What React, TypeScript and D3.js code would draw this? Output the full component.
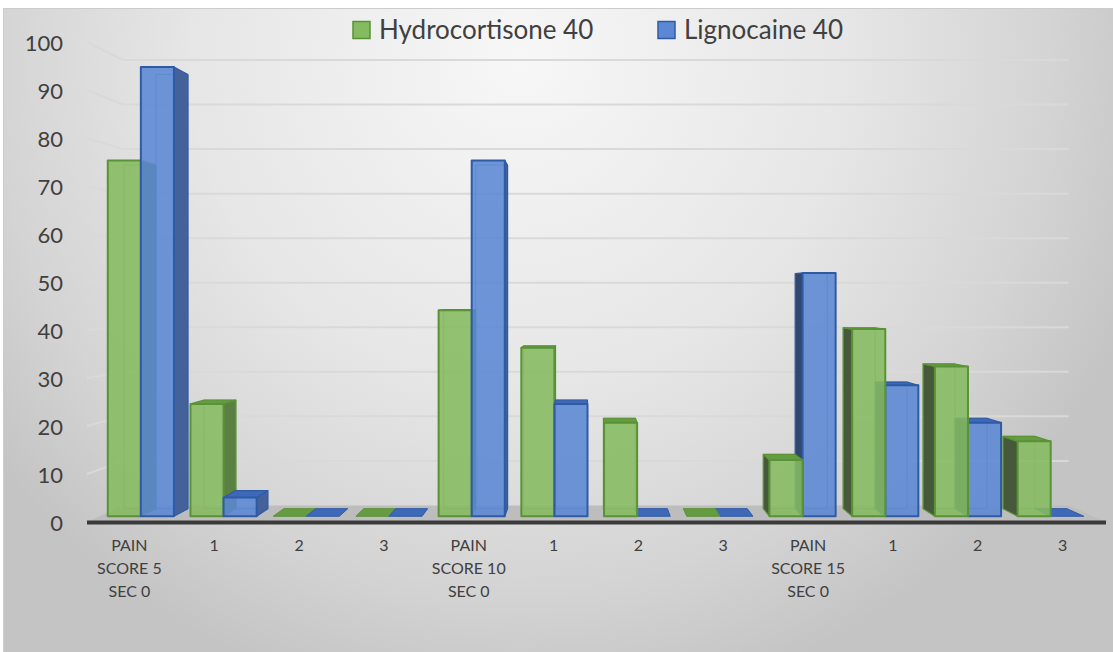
import React from "react";
import * as d3 from "d3";

const categories = [
  ["PAIN", "SCORE 5", "SEC 0"], ["1"], ["2"], ["3"],
  ["PAIN", "SCORE 10", "SEC 0"], ["1"], ["2"], ["3"],
  ["PAIN", "SCORE 15", "SEC 0"], ["1"], ["2"], ["3"],
];
const hydrocortisone = [76, 24, 0, 0, 44, 36, 20, 0, 12, 40, 32, 16];
const lignocaine = [96, 4, 0, 0, 76, 24, 0, 0, 52, 28, 20, 0];
const seriesNames = ["Hydrocortisone 40", "Lignocaine 40"];
const yTicks = [0, 10, 20, 30, 40, 50, 60, 70, 80, 90, 100];

const W = 1113;
const H = 652;

// simple perspective: points shrink toward a vanishing point with depth
const VX = 587;
const VY = 292;
const D_FRONT = 0.025;
const D_BACK = 0.058;
const D_WALL = 0.072;

const palette = [
  { front: "#84bb60", stroke: "#5a9236", top: "#659c42", left: "#46593a", right: "#5b8043" },
  { front: "#5b87d3", stroke: "#2f5ba6", top: "#3d69b8", left: "#30476f", right: "#44619a" },
];

const project = (x: number, y: number, d: number): [number, number] => [
  VX + (x - VX) * (1 - d),
  VY + (y - VY) * (1 - d),
];

const poly = (pts: [number, number][]) =>
  "M" + pts.map((p) => p[0].toFixed(2) + "," + p[1].toFixed(2)).join("L") + "Z";

export default function App() {
  const xScale = d3
    .scaleBand<number>()
    .domain(d3.range(categories.length))
    .range([87, 1105]);
  const xInner = d3
    .scaleBand<number>()
    .domain([0, 1])
    .range([0, xScale.bandwidth()])
    .paddingOuter(0.25);
  const yScale = d3.scaleLinear().domain([0, 100]).range([522, 42]);

  const series = [hydrocortisone, lignocaine];
  const base = yScale(0);

  type Bar = { x0: number; x1: number; yt: number; v: number; s: number };
  const bars: Bar[] = [];
  categories.forEach((_, i) => {
    series.forEach((vals, s) => {
      const x0 = (xScale(i) as number) + (xInner(s) as number);
      bars.push({ x0, x1: x0 + xInner.bandwidth(), yt: yScale(vals[i]), v: vals[i], s });
    });
  });
  // far-from-centre bars first
  bars.sort(
    (a, b) => Math.abs((b.x0 + b.x1) / 2 - VX) - Math.abs((a.x0 + a.x1) / 2 - VX)
  );

  const floorLeft = 87;
  const floorRight = 1106;

  return (
    <svg
      width={W}
      height={H}
      style={{ position: "absolute", left: 0, top: 0, fontFamily: "Lato, 'Open Sans', sans-serif" }}
    >
      <defs>
        <radialGradient id="bg" gradientUnits="userSpaceOnUse" cx={520} cy={60} r={660}>
          <stop offset="0" stopColor="#f7f7f7" />
          <stop offset="0.5" stopColor="#e6e6e6" />
          <stop offset="0.8" stopColor="#d4d4d4" />
          <stop offset="1" stopColor="#c4c4c4" />
        </radialGradient>
      </defs>
      <rect x={0} y={0} width={W} height={H} fill="#ffffff" />
      <rect x={3.5} y={8.5} width={W} height={H} fill="url(#bg)" stroke="#cccccc" />

      {/* gridlines: left wall + back wall */}
      {yTicks.filter((t) => t > 0).map((t) => {
        const y = yScale(t);
        const a = project(floorLeft, y, D_WALL);
        const b = project(floorRight, y, D_WALL);
        return (
          <path
            key={t}
            d={`M${floorLeft},${y}L${a[0]},${a[1]}L${b[0]},${b[1]}`}
            fill="none"
            stroke="#d9d9d9"
            strokeWidth={2}
          />
        );
      })}

      {/* floor */}
      <path
        d={poly([
          project(floorLeft, base, D_WALL),
          project(floorRight, base, D_WALL),
          [floorRight, base],
          [floorLeft, base],
        ])}
        fill="#bdbdbd"
      />
      <rect x={floorLeft} y={base - 1.5} width={floorRight - floorLeft} height={4} fill="#3a3a3a" />

      {/* bars */}
      {bars.map((b, k) => {
        const c = palette[b.s];
        const fTL = project(b.x0, b.yt, D_FRONT);
        const fTR = project(b.x1, b.yt, D_FRONT);
        const fBR = project(b.x1, base, D_FRONT);
        const fBL = project(b.x0, base, D_FRONT);
        const bTL = project(b.x0, b.yt, D_BACK);
        const bTR = project(b.x1, b.yt, D_BACK);
        const bBR = project(b.x1, base, D_BACK);
        const bBL = project(b.x0, base, D_BACK);
        const top = poly([fTL, fTR, bTR, bTL]);
        if (b.v === 0) {
          return <path key={k} d={top} fill={c.top} stroke={c.stroke} strokeWidth={1} />;
        }
        return (
          <g key={k} strokeLinejoin="round">
            <path d={poly([bTL, bTR, bBR, bBL])} fill="none" stroke={c.stroke} strokeWidth={1} opacity={0.6} />
            {b.x1 < VX && (
              <path d={poly([fTR, bTR, bBR, fBR])} fill={c.right} stroke={c.stroke} strokeWidth={1.2} />
            )}
            {b.x0 > VX && (
              <path d={poly([fTL, bTL, bBL, fBL])} fill={c.left} stroke={c.stroke} strokeWidth={1.2} />
            )}
            {b.yt > VY && <path d={top} fill={c.top} stroke={c.stroke} strokeWidth={1.2} />}
            <path
              d={poly([fTL, fTR, fBR, fBL])}
              fill={c.front}
              fillOpacity={0.88}
              stroke={c.stroke}
              strokeWidth={2}
            />
          </g>
        );
      })}

      {/* y axis labels */}
      {yTicks.map((t) => (
        <text
          key={t}
          x={63}
          y={yScale(t) + 1}
          dy="0.35em"
          textAnchor="end"
          fontSize={22}
          fill="#404040"
        >
          {t}
        </text>
      ))}

      {/* category labels */}
      {categories.map((lines, i) => (
        <text
          key={i}
          x={(xScale(i) as number) + xScale.bandwidth() / 2}
          y={551}
          textAnchor="middle"
          fontSize={16}
          fill="#404040"
        >
          {lines.map((l, j) => (
            <tspan key={j} x={(xScale(i) as number) + xScale.bandwidth() / 2} dy={j === 0 ? 0 : 23}>
              {l}
            </tspan>
          ))}
        </text>
      ))}

      {/* legend */}
      {seriesNames.map((name, s) => {
        const lx = s === 0 ? 353 : 658;
        return (
          <g key={name}>
            <rect x={lx} y={21.5} width={17} height={17} fill={palette[s].front} stroke={palette[s].stroke} strokeWidth={1.5} />
            <text x={lx + 26} y={38.5} fontSize={26} fill="#404040">
              {name}
            </text>
          </g>
        );
      })}
    </svg>
  );
}
